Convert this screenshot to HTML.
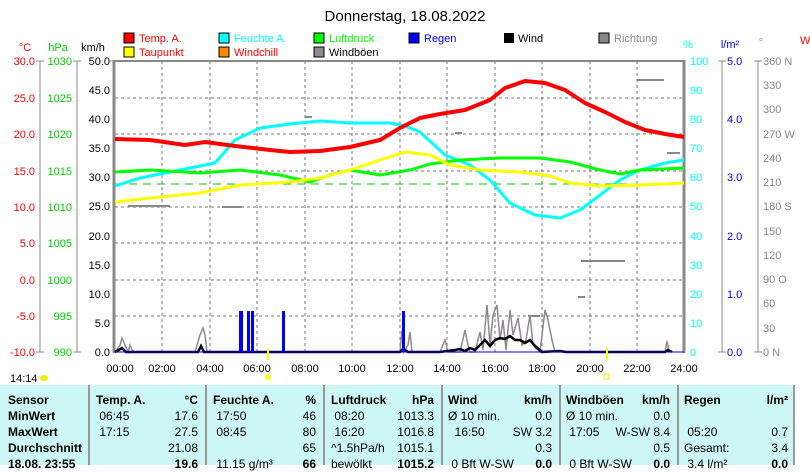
<!DOCTYPE html>
<html><head><meta charset="utf-8"><style>
body{margin:0;background:#fff;width:810px;height:465px;overflow:hidden;font-family:"Liberation Sans",sans-serif}
svg{position:absolute;left:0;top:0}
.tb{position:absolute;left:0;top:385px;width:795px;height:80px;background:#ccf7f5}
.c{position:absolute;top:0;height:80px;font-size:12px;line-height:16px;color:#000}
.sep{position:absolute;top:0;width:2px;height:80px;background:#999}
.c div{white-space:nowrap;position:relative;height:16px}
.c span{position:absolute}
</style></head><body>
<svg width="810" height="465" font-family="Liberation Sans, sans-serif" font-size="12">
<text x="405" y="21" font-size="15" text-anchor="middle">Donnerstag, 18.08.2022</text>
<g font-size="11">
<rect x="124" y="33" width="10" height="10" fill="#f00" stroke="#000"/><text x="139" y="42" fill="#f00">Temp. A.</text>
<rect x="124" y="47" width="10" height="10" fill="#ff0" stroke="#000"/><text x="139" y="56" fill="#f00">Taupunkt</text>
<rect x="219" y="33" width="10" height="10" fill="#0ff" stroke="#000"/><text x="234" y="42" fill="#0ff">Feuchte A.</text>
<rect x="219" y="47" width="10" height="10" fill="#f80" stroke="#000"/><text x="234" y="56" fill="#f00">Windchill</text>
<rect x="314" y="33" width="10" height="10" fill="#0f0" stroke="#000"/><text x="329" y="42" fill="#0f0">Luftdruck</text>
<rect x="314" y="47" width="10" height="10" fill="#908890" stroke="#000"/><text x="329" y="56">Windböen</text>
<rect x="409" y="33" width="10" height="10" fill="#00f" stroke="#000"/><text x="424" y="42" fill="#00f">Regen</text>
<rect x="504" y="33" width="10" height="10" fill="#000"/><text x="518" y="42">Wind</text>
<rect x="599" y="33" width="10" height="10" fill="#888" stroke="#000"/><text x="614" y="42" fill="#888">Richtung</text>
</g>
<g font-size="11">
<text x="25" y="51" fill="#f00" text-anchor="middle">°C</text>
<text x="58" y="51" fill="#0c0" text-anchor="middle">hPa</text>
<text x="93" y="51" text-anchor="middle">km/h</text>
<text x="688" y="48" fill="#0ff" text-anchor="middle">%</text>
<text x="730" y="48" fill="#00f" text-anchor="middle">l/m²</text>
<text x="761" y="46" fill="#888" text-anchor="middle">°</text>
</g>
<g stroke="#777" stroke-dasharray="3,3" stroke-width="1">
<line x1="162" y1="61" x2="162" y2="352"/><line x1="210" y1="61" x2="210" y2="352"/><line x1="257" y1="61" x2="257" y2="352"/><line x1="305" y1="61" x2="305" y2="352"/><line x1="352" y1="61" x2="352" y2="352"/><line x1="400" y1="61" x2="400" y2="352"/><line x1="447" y1="61" x2="447" y2="352"/><line x1="495" y1="61" x2="495" y2="352"/><line x1="542" y1="61" x2="542" y2="352"/><line x1="590" y1="61" x2="590" y2="352"/><line x1="637" y1="61" x2="637" y2="352"/>
<line x1="115" y1="98" x2="684" y2="98"/><line x1="115" y1="134" x2="684" y2="134"/><line x1="115" y1="171" x2="684" y2="171"/><line x1="115" y1="207" x2="684" y2="207"/><line x1="115" y1="243" x2="684" y2="243"/><line x1="115" y1="280" x2="684" y2="280"/><line x1="115" y1="316" x2="684" y2="316"/>
</g>
<line x1="115" y1="184" x2="684" y2="184" stroke="#0c0" stroke-dasharray="8,6" stroke-width="1"/>
<line x1="114" y1="61" x2="684" y2="61" stroke="#888" stroke-width="2"/>
<line x1="114" y1="60" x2="114" y2="353" stroke="#888" stroke-width="3"/>
<line x1="684" y1="60" x2="684" y2="353" stroke="#888" stroke-width="3"/>
<g stroke="#888"><line x1="40" y1="61" x2="40" y2="352"/><line x1="77" y1="61" x2="77" y2="352"/><line x1="722" y1="61" x2="722" y2="352"/><line x1="758" y1="61" x2="758" y2="352"/>
<line x1="36" y1="61" x2="44" y2="61"/><line x1="73" y1="61" x2="81" y2="61"/><line x1="110" y1="61" x2="114" y2="61"/><line x1="718" y1="61" x2="726" y2="61"/><line x1="754" y1="61" x2="762" y2="61"/>
<line x1="36" y1="352" x2="44" y2="352"/><line x1="73" y1="352" x2="81" y2="352"/><line x1="718" y1="352" x2="726" y2="352"/><line x1="754" y1="352" x2="762" y2="352"/></g>
<g font-size="11" text-anchor="end">
<g fill="#f00"><text x="35" y="65">30.0</text><text x="35" y="102">25.0</text><text x="35" y="138">20.0</text><text x="35" y="175">15.0</text><text x="35" y="211">10.0</text><text x="35" y="247">5.0</text><text x="35" y="284">0.0</text><text x="35" y="320">-5.0</text><text x="35" y="356">-10.0</text></g>
<g fill="#0c0"><text x="72" y="65">1030</text><text x="72" y="102">1025</text><text x="72" y="138">1020</text><text x="72" y="175">1015</text><text x="72" y="211">1010</text><text x="72" y="247">1005</text><text x="72" y="284">1000</text><text x="72" y="320">995</text><text x="72" y="356">990</text></g>
<g><text x="110" y="65">50.0</text><text x="110" y="94">45.0</text><text x="110" y="123">40.0</text><text x="110" y="152">35.0</text><text x="110" y="181">30.0</text><text x="110" y="210">25.0</text><text x="110" y="240">20.0</text><text x="110" y="269">15.0</text><text x="110" y="298">10.0</text><text x="110" y="327">5.0</text><text x="110" y="356">0.0</text></g>
</g>
<g font-size="11" fill="#0ff"><text x="690" y="65">100</text><text x="690" y="94">90</text><text x="690" y="123">80</text><text x="690" y="152">70</text><text x="690" y="181">60</text><text x="690" y="210">50</text><text x="690" y="240">40</text><text x="690" y="269">30</text><text x="690" y="298">20</text><text x="690" y="327">10</text><text x="690" y="356">0</text></g>
<g font-size="11" fill="#00f"><text x="727" y="65">5.0</text><text x="727" y="123">4.0</text><text x="727" y="181">3.0</text><text x="727" y="240">2.0</text><text x="727" y="298">1.0</text><text x="727" y="356">0.0</text></g>
<g font-size="11" fill="#888"><text x="763" y="65">360 N</text><text x="763" y="89">330</text><text x="763" y="113">300</text><text x="763" y="138">270 W</text><text x="763" y="162">240</text><text x="763" y="186">210</text><text x="763" y="210">180 S</text><text x="763" y="235">150</text><text x="763" y="259">120</text><text x="763" y="283">90  O</text><text x="763" y="307">60</text><text x="763" y="332">30</text><text x="763" y="356">0   N</text></g>
<text x="800" y="44" fill="#f00" font-size="11">W</text>
<g stroke="#888" stroke-width="2">
<line x1="128" y1="206" x2="170" y2="206"/><line x1="222" y1="207" x2="242" y2="207"/><line x1="581" y1="261" x2="625" y2="261"/><line x1="637" y1="80" x2="664" y2="80"/><line x1="667" y1="153" x2="680" y2="153"/><line x1="305" y1="117" x2="312" y2="117"/><line x1="528" y1="316" x2="540" y2="316"/><line x1="578" y1="297" x2="585" y2="297"/><line x1="455" y1="133" x2="462" y2="133"/>
</g>
<g fill="none" stroke-linejoin="round">
<polyline stroke="#0ff" stroke-width="3" points="115,186 140,178 180,170 215,163 235,140 260,128 290,124 320,121 350,123 390,123 405,126 420,132 445,155 470,165 490,180 510,203 535,215 560,218 580,210 600,195 620,180 640,170 665,163 684,160"/>
<polyline stroke="#0f0" stroke-width="3" points="115,172 150,170 200,173 240,170 280,175 310,182 330,175 350,170 380,175 410,170 430,164 460,160 500,158 540,158 570,162 600,170 620,174 640,170 684,168"/>
<polyline stroke="#ff0" stroke-width="3" points="115,202 150,198 200,193 240,185 290,182 320,178 350,170 380,160 405,152 430,155 450,165 480,170 520,172 550,176 570,183 600,186 640,185 684,183"/>
<polyline stroke="#f00" stroke-width="4" points="115,139 150,140 185,145 205,142 235,146 270,150 290,152 320,151 350,147 380,140 400,128 420,118 440,114 465,110 490,100 505,88 525,81 545,83 565,90 585,103 605,112 625,122 645,130 665,134 684,137"/>
</g>
<polyline fill="none" stroke="#908890" stroke-width="1.5" points="115,352 120,345 122,338 125,345 128,352 130,345 132,350 135,352 195,352 200,335 203,328 205,335 207,352 400,352 402,330 404,352 408,345 410,332 412,352 440,352 445,340 448,352 460,352 465,330 468,345 470,352 475,352 480,332 483,350 487,305 490,345 493,315 497,305 500,340 503,320 506,350 510,310 513,335 518,318 522,345 526,340 530,315 533,345 540,352 545,310 548,320 552,340 555,352 665,352 667,341 669,352"/>
<polyline fill="none" stroke="#000" stroke-width="2.5" points="115,352 122,348 126,352 198,352 201,346 204,352 400,352 403,349 408,352 440,352 455,350 460,349 465,351 470,348 475,350 480,345 485,340 490,346 495,340 500,338 505,339 510,336 515,340 520,340 525,343 530,340 535,346 542,352 560,351 566,352 665,352 668,350 672,352"/>
<g fill="#00f"><rect x="239" y="311" width="4" height="41"/><rect x="247" y="311" width="3" height="41"/><rect x="251" y="311" width="3" height="41"/><rect x="282" y="311" width="3" height="41"/><rect x="402" y="311" width="3" height="41"/></g>
<line x1="115" y1="352" x2="684" y2="352" stroke="#00f" stroke-width="1"/>
<g font-size="11" text-anchor="middle"><text x="120" y="372">00:00</text><text x="162" y="372">02:00</text><text x="210" y="372">04:00</text><text x="257" y="372">06:00</text><text x="305" y="372">08:00</text><text x="352" y="372">10:00</text><text x="400" y="372">12:00</text><text x="447" y="372">14:00</text><text x="495" y="372">16:00</text><text x="542" y="372">18:00</text><text x="590" y="372">20:00</text><text x="637" y="372">22:00</text><text x="684" y="372">24:00</text></g>
<line x1="268" y1="348" x2="268" y2="360" stroke="#ff0" stroke-width="2"/><line x1="607" y1="348" x2="607" y2="360" stroke="#ff0" stroke-width="2"/>
<circle cx="268" cy="377" r="3" fill="#ff0"/><rect x="604" y="374" width="5" height="5" fill="none" stroke="#ee0"/>
<text x="10" y="382" font-size="11">14:14</text><ellipse cx="44" cy="378" rx="4" ry="3" fill="#ee0"/>
</svg>
<div class="tb">
<div class="sep" style="left:88px"></div><div class="sep" style="left:205px"></div><div class="sep" style="left:323px"></div><div class="sep" style="left:441px"></div><div class="sep" style="left:559px"></div><div class="sep" style="left:677px"></div><div class="sep" style="left:793px"></div>
<div class="c" style="left:8px;top:7px;font-weight:bold"><div>Sensor</div><div>MinWert</div><div>MaxWert</div><div>Durchschnitt</div><div>18.08. 23:55</div></div>
<div class="c" style="left:96px;top:7px;width:102px"><div><b>Temp. A.</b><span style="right:0"><b>°C</b></span></div><div>&nbsp;06:45<span style="right:0">17.6</span></div><div>&nbsp;17:15<span style="right:0">27.5</span></div><div><span style="right:0">21.08</span></div><div><span style="right:0"><b>19.6</b></span></div></div>
<div class="c" style="left:213px;top:7px;width:103px"><div><b>Feuchte A.</b><span style="right:0"><b>%</b></span></div><div>&nbsp;17:50<span style="right:0">46</span></div><div>&nbsp;08:45<span style="right:0">80</span></div><div><span style="right:0">65</span></div><div>&nbsp;11.15 g/m³<span style="right:0"><b>66</b></span></div></div>
<div class="c" style="left:331px;top:7px;width:103px"><div><b>Luftdruck</b><span style="right:0"><b>hPa</b></span></div><div>&nbsp;08:20<span style="right:0">1013.3</span></div><div>&nbsp;16:20<span style="right:0">1016.8</span></div><div>^1.5hPa/h<span style="right:0">1015.1</span></div><div>bewölkt<span style="right:0"><b>1015.2</b></span></div></div>
<div class="c" style="left:448px;top:7px;width:104px"><div><b>Wind</b><span style="right:0"><b>km/h</b></span></div><div>Ø 10 min.<span style="right:0">0.0</span></div><div>&nbsp;&nbsp;16:50<span style="right:0">SW 3.2</span></div><div><span style="right:0">0.3</span></div><div>&nbsp;0 Bft W-SW<span style="right:0"><b>0.0</b></span></div></div>
<div class="c" style="left:566px;top:7px;width:104px"><div><b>Windböen</b><span style="right:0"><b>km/h</b></span></div><div>Ø 10 min.<span style="right:0">0.0</span></div><div>&nbsp;17:05<span style="right:0">W-SW 8.4</span></div><div><span style="right:0">0.5</span></div><div>&nbsp;0 Bft W-SW<span style="right:0"><b>0.0</b></span></div></div>
<div class="c" style="left:684px;top:7px;width:104px"><div><b>Regen</b><span style="right:0"><b>l/m²</b></span></div><div></div><div>&nbsp;05:20<span style="right:0">0.7</span></div><div>Gesamt:<span style="right:0">3.4</span></div><div>&nbsp;3.4 l/m²<span style="right:0"><b>0.0</b></span></div></div>
</div>
</body></html>
